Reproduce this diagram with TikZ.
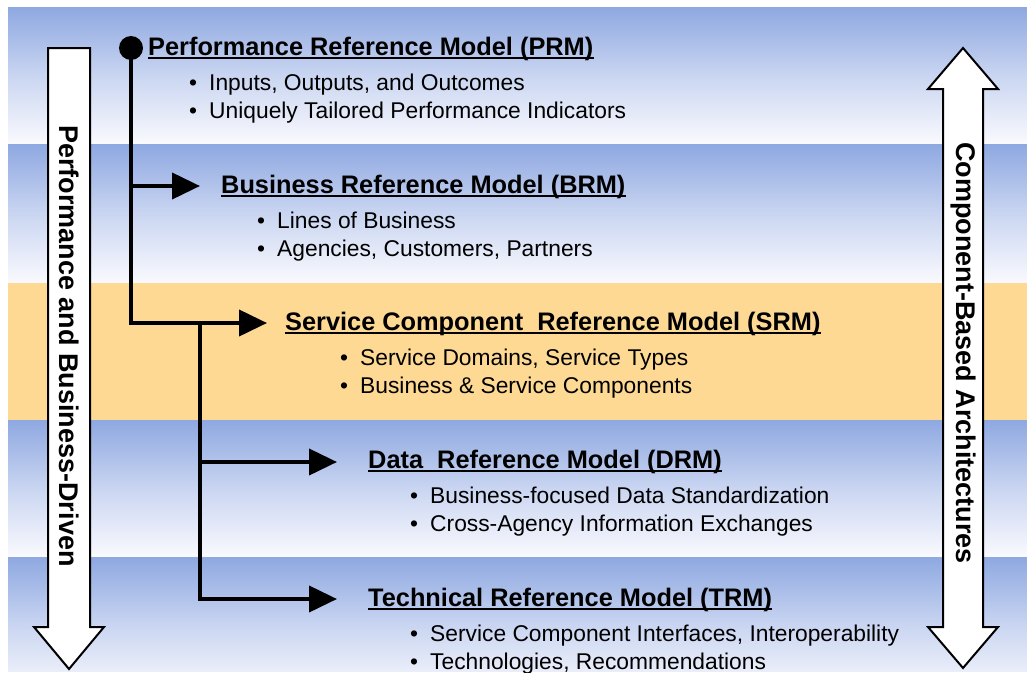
\documentclass[tikz,border=0pt]{standalone}
\usepackage{fontspec}
\setmainfont{Liberation Sans}
\usetikzlibrary{arrows.meta}
\definecolor{bandblue}{RGB}{142,168,225}
\definecolor{bandorange}{RGB}{253,217,148}
\definecolor{bandwhite}{RGB}{250,250,254}
\tikzset{
  band/.style={top color=bandblue, bottom color=bandwhite, middle color=bandblue!45!bandwhite},
  bigarrow/.style={draw=black, fill=white, line width=2pt, line join=miter},
  sidetext/.style={rotate=-90, inner sep=0pt, font=\fontsize{27}{32}\selectfont\bfseries},
  title/.style={anchor=base west, inner sep=0pt, font=\fontsize{25.35}{30}\selectfont\bfseries},
  item/.style={anchor=base west, inner sep=0pt, font=\fontsize{22.8}{28}\selectfont},
  uline/.style={line width=2pt},
  conn/.style={line width=4pt},
  connarrow/.style={line width=4pt, -{Triangle[length=28pt,width=26pt]}},
}
\newcommand{\bul}[1]{\makebox[20pt][l]{\textbullet}#1}
\begin{document}
\begin{tikzpicture}[x=1pt,y=-1pt]
\useasboundingbox (0,0) rectangle (1027,672);
% background bands
\begin{scope}
\clip (8,7) rectangle (1027,671);
\shade[band] (8,7) rectangle (1027,144);
\shade[band] (8,144) rectangle (1027,283);
\fill[bandorange] (8,283) rectangle (1027,420);
\shade[band] (8,420) rectangle (1027,557);
\shade[band] (8,557) rectangle (1027,694);
\end{scope}
% left down arrow
\draw[bigarrow] (48,48) -- (90,48) -- (90,627) -- (104,627) -- (69,669) -- (34,627) -- (48,627) -- cycle;
\node[sidetext] (leftlbl) at (69,346) {Performance and Business-Driven};
% right double arrow
\draw[bigarrow] (963,48) -- (998,89) -- (983,89) -- (983,627) -- (998,627) -- (963,668) -- (928,627) -- (943,627) -- (943,89) -- (928,89) -- cycle;
\node[sidetext] (rightlbl) at (963,353) {Component-Based Architectures};
% titles
\node[title] (prm) at (148,55) {Performance Reference Model (PRM)};
\node[title] (brm) at (221,193) {Business Reference Model (BRM)};
\node[title] (srm) at (285,330) {Service Component\ \ Reference Model (SRM)};
\node[title] (drm) at (368,468) {Data\ \ Reference Model (DRM)};
\node[title] (trm) at (368,606) {Technical Reference Model (TRM)};
\foreach \t in {prm,brm,srm,drm,trm}
  \draw[uline] ([yshift=-3pt]\t.base west) -- ([yshift=-3pt]\t.base east);
% bullets
\node[item] (p1) at (189,90) {\bul{Inputs, Outputs, and Outcomes}};
\node[item] (p2) at (189,118) {\bul{Uniquely Tailored Performance Indicators}};
\node[item] (b1) at (257,228) {\bul{Lines of Business}};
\node[item] (b2) at (257,256) {\bul{Agencies, Customers, Partners}};
\node[item] (s1) at (340,365) {\bul{Service Domains, Service Types}};
\node[item] (s2) at (340,393) {\bul{Business \& Service Components}};
\node[item] (d1) at (410,503) {\bul{Business-focused Data Standardization}};
\node[item] (d2) at (410,531) {\bul{Cross-Agency Information Exchanges}};
\node[item] (t1) at (410,641) {\bul{Service Component Interfaces, Interoperability}};
\node[item] (t2) at (410,669) {\bul{Technologies, Recommendations}};
% connectors
\coordinate (root) at (131,48);
\coordinate (j1) at (131,186);
\coordinate (j2) at (131,323);
\coordinate (j3) at (200,323);
\coordinate (j4) at (200,462);
\coordinate (j5) at (200,599);
\coordinate (tipb) at (200,186);
\coordinate (tips) at (267,323);
\coordinate (tipd) at (337,462);
\coordinate (tipt) at (337,599);
\draw[conn] (root) -- ([yshift=-2pt]j2);
\draw[conn] ([yshift=2pt]j3) -- ([yshift=-2pt]j5);
\draw[connarrow] (j1) -- (tipb);
\draw[connarrow] ([xshift=-2pt]j2) -- (tips);
\draw[connarrow] (j4) -- (tipd);
\draw[connarrow] (j5) -- (tipt);
\fill (root) circle (12pt);
\end{tikzpicture}
\end{document}
